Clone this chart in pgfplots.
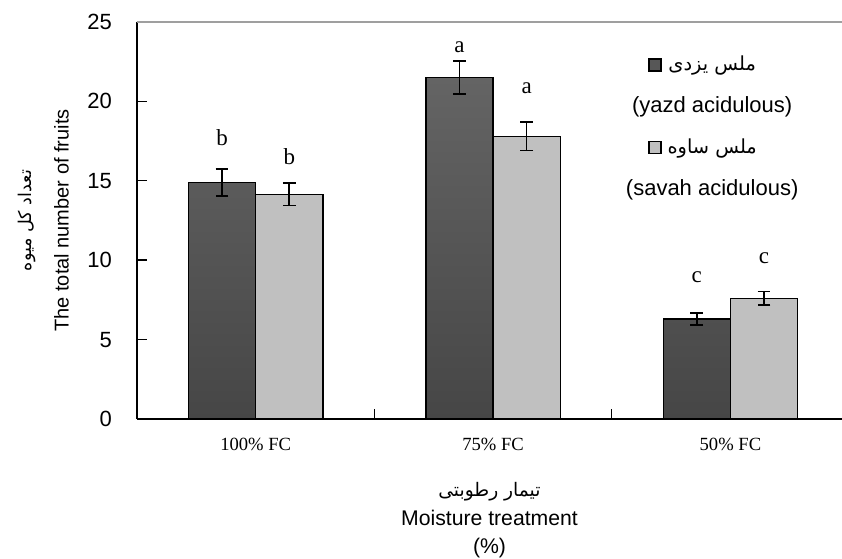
\documentclass[border=0pt]{standalone}
\usepackage{fontspec}
\setmainfont{Liberation Serif}
\setsansfont{Liberation Sans}
\newfontfamily\arabicfont[Script=Arabic, Scale=0.88]{DejaVu Sans}
\TeXXeTstate=1
\usepackage{pgfplots}
\pgfplotsset{compat=1.18}
\definecolor{darktop}{HTML}{646464}
\definecolor{darkbot}{HTML}{464646}
\definecolor{darkbar}{HTML}{575757}
\definecolor{lightbar}{HTML}{C0C0C0}
\begin{document}
\begin{tikzpicture}
\begin{axis}[
  name=ax,
  scale only axis, width=352.5pt, height=198.5pt,
  xmin=-0.5, xmax=2.47, ymin=0, ymax=25,
  axis x line*=bottom, axis y line*=left,
  axis line style={black, line width=0.8pt},
  ytick={0,5,...,25},
  xtick={0.5,1.5}, xticklabels={},
  extra x ticks={0,1,2},
  extra x tick labels={100\% FC, 75\% FC, 50\% FC},
  extra x tick style={major tick length=0pt},
  tick align=inside, major tick length=5pt,
  tick style={black, line width=0.7pt},
  /pgf/number format/assume math mode=true,
  yticklabel style={font=\sffamily\fontsize{11}{13}\selectfont, xshift=-9pt},
  xticklabel style={font=\fontsize{9.3}{11}\selectfont, yshift=-6pt},
  clip=false,
  bar width=0.283,
  ylabel={\arabicfont\beginR تعداد کل میوه\endR\\The total number of fruits},
  ylabel style={align=center, font=\sffamily\fontsize{10}{18.5}\selectfont,
    at={(axis description cs:-0.1326,0.5)}, anchor=center},
  xlabel={\arabicfont\beginR تیمار رطوبتی\endR\\Moisture treatment\\(\%)},
  xlabel style={align=center, font=\sffamily\fontsize{10.6}{14.25}\selectfont,
    at={(axis description cs:0.5,0)}, anchor=center, yshift=-50.75pt},
  legend style={draw=none, fill=none, at={(axis description cs:0.813,0.935)},
    anchor=north, legend cell align=center, row sep=7.5pt,
    font=\sffamily\fontsize{11}{13}\selectfont},
  after end axis/.code={
    \draw[gray!75, line width=1pt] (rel axis cs:0,1) -- (rel axis cs:1,1);
  },
]
\addplot[ybar, bar shift=0, draw=black, line width=0.7pt,
  top color=darktop, bottom color=darkbot, forget plot,
  error bars/.cd, y dir=both, y explicit,
  error bar style={black, line width=0.8pt},
  error mark options={black, rotate=90, mark size=3.2pt, line width=0.8pt}]
  coordinates {(-0.1415,14.9) +- (0,0.85) (0.8585,21.5) +- (0,1.05) (1.8585,6.3) +- (0,0.38)};
\addplot[ybar, bar shift=0, draw=black, line width=0.7pt,
  fill=lightbar, forget plot,
  error bars/.cd, y dir=both, y explicit,
  error bar style={black, line width=0.8pt},
  error mark options={black, rotate=90, mark size=3.2pt, line width=0.8pt}]
  coordinates {(0.1415,14.15) +- (0,0.7) (1.1415,17.8) +- (0,0.9) (2.1415,7.6) +- (0,0.42)};
\addplot[only marks, mark=none, forget plot, nodes near coords,
  point meta=explicit symbolic,
  nodes near coords style={font=\fontsize{11.5}{13}\selectfont, anchor=center, inner sep=0pt}]
  coordinates {(-0.1415,17.7) [b] (0.1415,16.5) [b] (0.8585,23.4) [a]
               (1.1415,20.8) [a] (1.8585,8.9) [c] (2.1415,10.1) [c]};
\addlegendimage{legend image code/.code={
  \path[draw=none, fill=none] (0,0) rectangle (2pt,1pt);
  \draw[overlay, black, line width=0.6pt, fill=darkbar] (15.5pt,-3pt) rectangle ++(6pt,6pt);}}
\addlegendentry{\arabicfont\beginR ملس یزدی\endR}
\addlegendimage{empty legend}
\addlegendentry{(yazd acidulous)}
\addlegendimage{legend image code/.code={
  \path[draw=none, fill=none] (0,0) rectangle (2pt,1pt);
  \draw[overlay, black, line width=0.6pt, fill=lightbar] (15.5pt,-3pt) rectangle ++(6pt,6pt);}}
\addlegendentry{\arabicfont\beginR ملس ساوه\endR}
\addlegendimage{empty legend}
\addlegendentry{(savah acidulous)}
\end{axis}
\pgfresetboundingbox
\path[use as bounding box] ([shift={(-68.5pt,-70pt)}]ax.south west) rectangle ([shift={(0pt,11pt)}]ax.north east);
\end{tikzpicture}
\end{document}
